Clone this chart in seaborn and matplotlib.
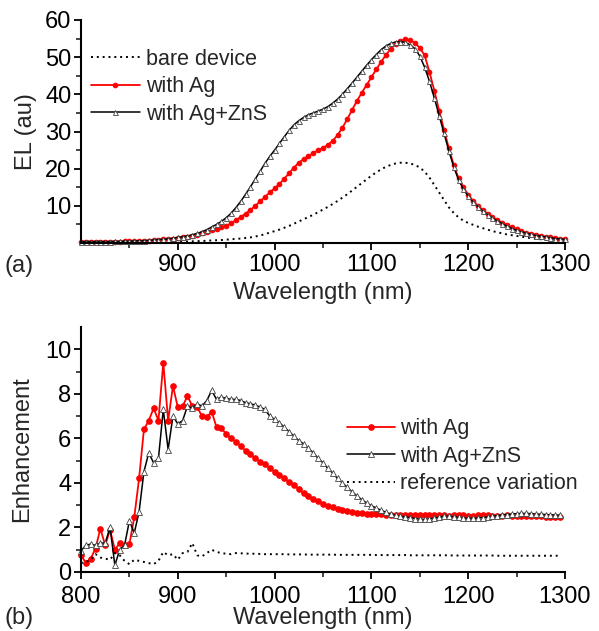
import numpy as np
import pandas as pd
import matplotlib
matplotlib.use('Agg')
import matplotlib.pyplot as plt
import seaborn as sns

sns.set_style('ticks')
plt.rcParams['font.family'] = ['Liberation Sans', 'DejaVu Sans']

# (a) EL spectra, 800-1300 nm every 5 nm
wl_a = np.arange(800, 1301, 5)
el_bare = [0.1, 0.1, 0.1, 0.1, 0.1, 0.1, 0.1, 0.1, 0.1, 0.1, 0.15, 0.15, 0.15, 0.15, 0.2, 0.2, 0.2, 0.25, 0.25, 0.3,
           0.3, 0.35, 0.4, 0.45, 0.5, 0.55, 0.6, 0.7, 0.75, 0.8, 0.9, 1.0, 1.1, 1.2, 1.35, 1.5, 1.75, 2.0, 2.4, 2.8,
           3.2, 3.6, 4.1, 4.6, 5.2, 5.8, 6.4, 7.0, 7.6, 8.3, 9.0, 9.7, 10.5, 11.3, 12.2, 13.1, 14.1, 15.1, 16.1, 17.1,
           18.1, 19.0, 19.8, 20.5, 21.0, 21.4, 21.6, 21.6, 21.4, 21.0, 20.3, 19.2, 17.6, 15.6, 13.6, 11.6, 9.6, 8.1, 6.9, 6.0,
           5.4, 4.9, 4.4, 4.0, 3.6, 3.2, 2.9, 2.6, 2.3, 2.1, 1.9, 1.7, 1.5, 1.3, 1.2, 1.0, 0.9, 0.8, 0.7, 0.6, 0.5]
el_ag = [0.35, 0.35, 0.35, 0.35, 0.35, 0.35, 0.35, 0.4, 0.4, 0.45, 0.45, 0.5, 0.55, 0.6, 0.65, 0.75, 0.85, 0.95, 1.05, 1.2,
         1.35, 1.5, 1.7, 1.9, 2.2, 2.6, 3.0, 3.4, 3.8, 4.2, 4.6, 5.3, 6.1, 7.0, 7.9, 8.9, 10.0, 11.2, 12.4, 13.6,
         14.7, 15.9, 17.3, 18.8, 20.3, 21.6, 22.6, 23.4, 24.2, 24.9, 25.6, 26.4, 27.5, 29.0, 31.0, 33.3, 35.8, 38.2, 40.4, 42.5,
         44.6, 46.7, 48.7, 50.6, 52.3, 53.6, 54.4, 54.8, 54.6, 53.8, 52.5, 50.5, 46.0, 41.0, 35.6, 30.5, 25.5, 21.0, 17.5, 15.0,
         13.0, 11.4, 10.0, 8.9, 7.9, 7.0, 6.2, 5.5, 4.8, 4.2, 3.7, 3.2, 2.8, 2.5, 2.2, 1.9, 1.7, 1.5, 1.3, 1.1, 1.0]
el_zns = [0.4, 0.4, 0.4, 0.4, 0.4, 0.4, 0.4, 0.45, 0.45, 0.5, 0.5, 0.55, 0.6, 0.65, 0.7, 0.8, 0.9, 1.0, 1.1, 1.3,
          1.5, 1.7, 1.9, 2.2, 2.6, 3.0, 3.6, 4.3, 5.0, 5.8, 6.8, 8.0, 9.5, 11.2, 13.1, 15.1, 17.2, 19.3, 21.4, 23.3,
          25.0, 26.8, 28.6, 30.3, 31.8, 32.9, 33.8, 34.5, 35.0, 35.5, 36.0, 36.7, 37.6, 38.7, 40.0, 41.5, 43.0, 44.6, 46.2, 47.8,
          49.3, 50.7, 52.0, 53.0, 53.7, 54.1, 54.2, 54.0, 53.3, 52.3, 50.3, 47.3, 43.5, 39.0, 34.3, 29.5, 24.8, 20.5, 17.0, 14.5,
          12.6, 11.0, 9.7, 8.6, 7.6, 6.7, 5.9, 5.2, 4.5, 3.9, 3.4, 3.0, 2.6, 2.3, 2.0, 1.8, 1.6, 1.4, 1.2, 1.1, 1.0]

# (b) enhancement, 800-1295 nm every 5 nm
wl_b = np.arange(800, 1300, 5)
enh_ag = [0.75, 0.42, 0.6, 1.05, 1.95, 1.2, 1.9, 1.0, 1.3, 1.2, 1.25, 2.45, 4.2, 6.4, 6.8, 7.35, 6.8, 9.4, 6.8, 8.35,
          7.4, 7.45, 7.9, 7.45, 7.4, 7.0, 6.95, 7.2, 6.5, 6.45, 6.2, 6.0, 5.85, 5.65, 5.45, 5.3, 5.1, 4.95, 4.85, 4.65,
          4.5, 4.35, 4.2, 4.05, 3.9, 3.72, 3.55, 3.4, 3.28, 3.17, 3.07, 2.98, 2.9, 2.83, 2.77, 2.72, 2.69, 2.66, 2.64, 2.62,
          2.61, 2.6, 2.59, 2.58, 2.57, 2.56, 2.56, 2.55, 2.55, 2.55, 2.54, 2.55, 2.56, 2.55, 2.54, 2.54, 2.53, 2.54, 2.55, 2.54,
          2.53, 2.53, 2.54, 2.55, 2.54, 2.53, 2.52, 2.53, 2.54, 2.53, 2.52, 2.51, 2.52, 2.51, 2.5, 2.5, 2.49, 2.48, 2.47, 2.45]
enh_zns = [0.95, 1.2, 1.25, 1.2, 1.3, 1.3, 2.0, 0.3, 1.0, 1.2, 2.3, 1.75, 2.7, 4.5, 5.35, 4.9, 5.1, 7.3, 5.5, 7.0,
           6.65, 6.8, 7.45, 7.35, 7.55, 7.45, 7.7, 8.15, 7.75, 7.85, 7.8, 7.75, 7.75, 7.7, 7.6, 7.55, 7.5, 7.4, 7.3, 7.0,
           6.85, 6.7, 6.5, 6.3, 6.1, 5.9, 5.75, 5.55, 5.35, 5.1, 4.9, 4.65, 4.45, 4.2, 4.0, 3.8, 3.6, 3.42, 3.25, 3.1,
           2.98, 2.87, 2.77, 2.68, 2.6, 2.54, 2.5, 2.47, 2.44, 2.4, 2.37, 2.36, 2.38, 2.42, 2.46, 2.5, 2.5, 2.48, 2.45, 2.42,
           2.41, 2.41, 2.42, 2.44, 2.47, 2.5, 2.53, 2.56, 2.58, 2.6, 2.62, 2.63, 2.63, 2.62, 2.6, 2.59, 2.58, 2.57, 2.56, 2.55]
enh_ref = [0.4, 0.45, 0.55, 0.8, 0.65, 0.6, 0.55, 0.85, 0.75, 0.5, 0.35, 0.55, 0.5, 0.45, 0.4, 0.35, 0.5, 0.9, 0.75, 0.8,
           0.55, 0.85, 0.9, 1.3, 0.75, 0.7, 0.85, 1.0, 0.9, 0.85, 0.82, 0.8, 0.85, 0.84, 0.83, 0.82, 0.82, 0.81, 0.8, 0.8,
           0.8, 0.8, 0.8, 0.79, 0.79, 0.79, 0.79, 0.78, 0.78, 0.78, 0.78, 0.78, 0.78, 0.77, 0.77, 0.77, 0.77, 0.77, 0.77, 0.77,
           0.77, 0.76, 0.76, 0.76, 0.76, 0.76, 0.76, 0.76, 0.75, 0.75, 0.75, 0.75, 0.75, 0.75, 0.75, 0.75, 0.75, 0.74, 0.74, 0.74,
           0.74, 0.74, 0.74, 0.74, 0.74, 0.74, 0.73, 0.73, 0.73, 0.73, 0.73, 0.73, 0.73, 0.73, 0.73, 0.73, 0.73, 0.73, 0.73, 0.73]

fig = plt.figure(figsize=(5.99, 6.31), dpi=100)
ax1 = fig.add_axes([81/599, 1-243/631, 484/599, 223/631])
ax2 = fig.add_axes([81/599, 1-572/631, 484/599, 245/631])

fs = 17        # tick and axis labels
fs_leg = 15.5  # legends
red = '#ff0000'

# (a)
sns.lineplot(x=wl_a, y=el_bare, ax=ax1, color='black', lw=1.4, linestyle=(0, (1, 2)),
             label='bare device')
sns.lineplot(x=wl_a, y=el_ag, ax=ax1, color=red, lw=1.3, marker='o', markersize=3.3,
             markeredgecolor=red, label='with Ag')
sns.lineplot(x=wl_a, y=el_zns, ax=ax1, color='black', lw=1.1, marker='^', markersize=3.6,
             markerfacecolor='white', markeredgecolor='#444444', markeredgewidth=0.6,
             label='with Ag+ZnS')
ax1.set_xlim(800, 1300)
ax1.set_ylim(0, 60)
ax1.set_xticks([900, 1000, 1100, 1200, 1300])
ax1.set_xticks(np.arange(850, 1300, 100), minor=True)
ax1.set_yticks([10, 20, 30, 40, 50, 60])
ax1.set_yticks(np.arange(5, 60, 10), minor=True)
ax1.set_xlabel('Wavelength (nm)', fontsize=fs)
ax1.set_ylabel('EL (au)', fontsize=fs)
ax1.xaxis.set_label_coords(0.5, -0.175)
ax1.yaxis.set_label_coords(-0.091, 0.5)
ax1.legend(loc='upper left', bbox_to_anchor=(0.02, 0.87), frameon=False, fontsize=fs_leg,
           handlelength=2.3, handletextpad=0.25, labelspacing=0.3, borderpad=0, borderaxespad=0)

# (b)
sns.lineplot(x=wl_b, y=enh_ag, ax=ax2, color=red, lw=1.3, marker='o', markersize=4,
             markeredgecolor=red, label='with Ag')
sns.lineplot(x=wl_b, y=enh_zns, ax=ax2, color='black', lw=1.1, marker='^', markersize=4.3,
             markerfacecolor='white', markeredgecolor='#444444', markeredgewidth=0.6,
             label='with Ag+ZnS')
sns.lineplot(x=wl_b, y=enh_ref, ax=ax2, color='black', lw=1.4, linestyle=(0, (1, 2)),
             label='reference variation')
ax2.set_xlim(800, 1300)
ax2.set_ylim(0, 11)
ax2.set_xticks(np.arange(800, 1301, 100))
ax2.set_xticks(np.arange(850, 1300, 100), minor=True)
ax2.set_yticks(np.arange(0, 11, 2))
ax2.set_yticks(np.arange(1, 11, 2), minor=True)
ax2.set_xlabel('Wavelength (nm)', fontsize=fs)
ax2.set_ylabel('Enhancement', fontsize=fs)
ax2.xaxis.set_label_coords(0.5, -0.142)
ax2.yaxis.set_label_coords(-0.098, 0.5)
ax2.legend(loc='upper left', bbox_to_anchor=(0.55, 0.627), frameon=False, fontsize=fs_leg,
           handlelength=2.2, handletextpad=0.25, labelspacing=0.3, borderpad=0, borderaxespad=0)

for ax in (ax1, ax2):
    sns.despine(ax=ax)
    for s in ('left', 'bottom'):
        ax.spines[s].set_linewidth(1.5)
        ax.spines[s].set_color('black')
    ax.tick_params(which='major', length=5, width=1.3, labelsize=fs, pad=2, colors='black')
    ax.tick_params(which='minor', length=3.5, width=1.2)
    for ln in ax.lines:
        ln.set_clip_on(False)
ax1.tick_params(axis='x', which='major', pad=3)
ax2.tick_params(axis='x', which='major', pad=5)

fig.text(0.008, 1-266/631, '(a)', fontsize=fs, va='center', ha='left')
fig.text(0.008, 1-618/631, '(b)', fontsize=fs, va='center', ha='left')

fig.savefig('out.png', dpi=100)
